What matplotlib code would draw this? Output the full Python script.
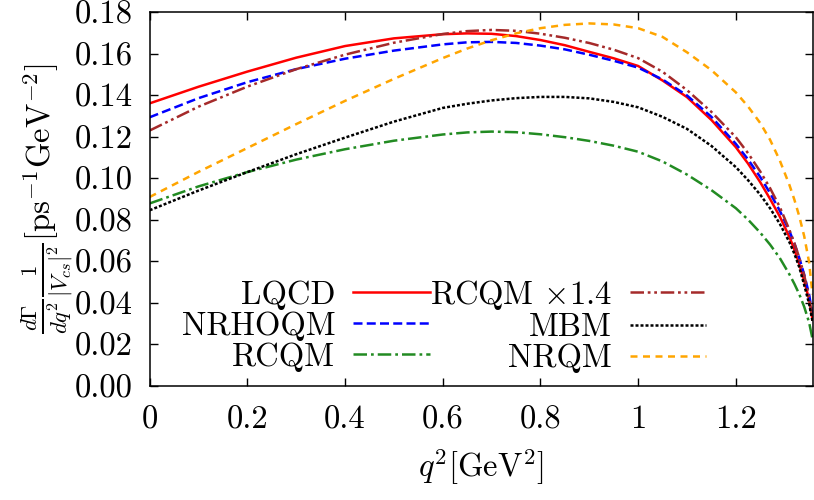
import matplotlib
matplotlib.use("Agg")
import matplotlib.pyplot as plt

plt.rcParams.update({
    "font.family": "serif",
    "font.serif": ["cmr10"],
    "mathtext.fontset": "cm",
    "axes.formatter.use_mathtext": True,
    "axes.unicode_minus": False,
})

# q^2 sampling points [GeV^2]
q2 = [0.0, 0.1, 0.2, 0.3, 0.4, 0.5, 0.6, 0.65, 0.7, 0.75, 0.8, 0.85, 0.9,
      0.95, 1.0, 1.05, 1.1, 1.15, 1.2, 1.225, 1.25, 1.27, 1.29, 1.31, 1.32,
      1.33, 1.34, 1.35, 1.357]

# differential rates dGamma/dq^2 / |V_cs|^2 [ps^-1 GeV^-2]
lqcd = [0.1360, 0.1440, 0.1513, 0.1580, 0.1636, 0.1673, 0.1693, 0.1697,
        0.1695, 0.1684, 0.1665, 0.1640, 0.1608, 0.1577, 0.1540, 0.1470,
        0.1390, 0.1280, 0.1149, 0.1070, 0.0980, 0.0900, 0.0815, 0.0715,
        0.0655, 0.0585, 0.0505, 0.0415, 0.0320]
nrhoqm = [0.1293, 0.1385, 0.1462, 0.1525, 0.1575, 0.1614, 0.1644, 0.1654,
          0.1656, 0.1651, 0.1638, 0.1620, 0.1594, 0.1565, 0.1532, 0.1475,
          0.1398, 0.1295, 0.1165, 0.1090, 0.1005, 0.0928, 0.0843, 0.0743,
          0.0685, 0.0615, 0.0535, 0.0440, 0.0340]
rcqm = [0.0878, 0.0960, 0.1029, 0.1089, 0.1139, 0.1180, 0.1210, 0.1220,
        0.1224, 0.1221, 0.1211, 0.1197, 0.1179, 0.1156, 0.1127, 0.1080,
        0.1017, 0.0942, 0.0855, 0.0800, 0.0737, 0.0680, 0.0615, 0.0535,
        0.0490, 0.0440, 0.0380, 0.0305, 0.0225]
rcqm_factor = 1.4
mbm = [0.0845, 0.0940, 0.1029, 0.1115, 0.1195, 0.1272, 0.1338, 0.1358,
       0.1374, 0.1385, 0.1391, 0.1391, 0.1384, 0.1367, 0.1341, 0.1295,
       0.1237, 0.1155, 0.1053, 0.0990, 0.0920, 0.0855, 0.0780, 0.0690,
       0.0635, 0.0570, 0.0485, 0.0395, 0.0310]
nrqm = [0.0909, 0.1030, 0.1145, 0.1260, 0.1372, 0.1478, 0.1578, 0.1624,
        0.1664, 0.1697, 0.1722, 0.1738, 0.1745, 0.1740, 0.1722, 0.1680,
        0.1606, 0.1520, 0.1413, 0.1345, 0.1265, 0.1185, 0.1085, 0.0965,
        0.0895, 0.0815, 0.0720, 0.0595, 0.0440]

rcqm_scaled = [rcqm_factor * v for v in rcqm]

x_ticks = [0.0, 0.2, 0.4, 0.6, 0.8, 1.0, 1.2]
x_tick_labels = ["0", "0.2", "0.4", "0.6", "0.8", "1", "1.2"]
y_ticks = [0.00, 0.02, 0.04, 0.06, 0.08, 0.10, 0.12, 0.14, 0.16, 0.18]
y_tick_labels = ["%.2f" % v for v in y_ticks]

W, H = 814, 500
fig = plt.figure(figsize=(W / 100, H / 100), dpi=100)
x0, x1, ytop, ybot = 149.7, 813.0, 12.0, 385.7
ax = fig.add_axes([x0 / W, (H - ybot) / H, (x1 - x0) / W, (ybot - ytop) / H])

lw = 1.8
ax.plot(q2, lqcd, color="#ff0000", lw=lw, ls="-", label="LQCD")
ax.plot(q2, nrhoqm, color="#0000ff", lw=lw, ls=(0, (3.6, 1.7)), label="NRHOQM")
ax.plot(q2, rcqm, color="#228b22", lw=lw, ls=(0, (5.4, 1.6, 1.1, 1.6)), label="RCQM")
ax.plot(q2, rcqm_scaled, color="#a52a2a", lw=lw,
        ls=(0, (5.4, 1.5, 1.1, 1.5, 1.1, 1.5)), label=r"RCQM $\times$1.4")
ax.plot(q2, mbm, color="black", lw=lw, ls=(0, (1.2, 0.8)), label="MBM")
ax.plot(q2, nrqm, color="#ffa500", lw=lw, ls=(0, (2.8, 2.2)), label="NRQM")

ax.set_xlim(0, 1.358)
ax.set_ylim(0, 0.18)
ax.set_xticks(x_ticks)
ax.set_xticklabels(x_tick_labels)
ax.set_yticks(y_ticks)
ax.set_yticklabels(y_tick_labels)
ax.tick_params(direction="in", length=6, width=1.0, labelsize=23.5,
               top=True, right=True, pad=12)
ax.tick_params(axis="x", pad=14)
for s in ax.spines.values():
    s.set_linewidth(1.1)

ax.set_xlabel(r"$q^2[\mathrm{GeV}^2]$", fontsize=23.5, labelpad=9)
ax.set_ylabel(r"$\frac{d\Gamma}{dq^2}\frac{1}{|V_{cs}|^2}[\mathrm{ps}^{-1}\mathrm{GeV}^{-2}]$",
              fontsize=23.5, labelpad=0)

leg = ax.legend(ncol=2, markerfirst=False, frameon=False, fontsize=23.5,
                handlelength=2.35, handletextpad=0.55, columnspacing=0.0,
                labelspacing=0.05, borderpad=0.0, borderaxespad=0.0,
                loc="center", bbox_to_anchor=(444.0 / W, 1 - 325.5 / H),
                bbox_transform=fig.transFigure)

fig.savefig("out.png", dpi=100)
